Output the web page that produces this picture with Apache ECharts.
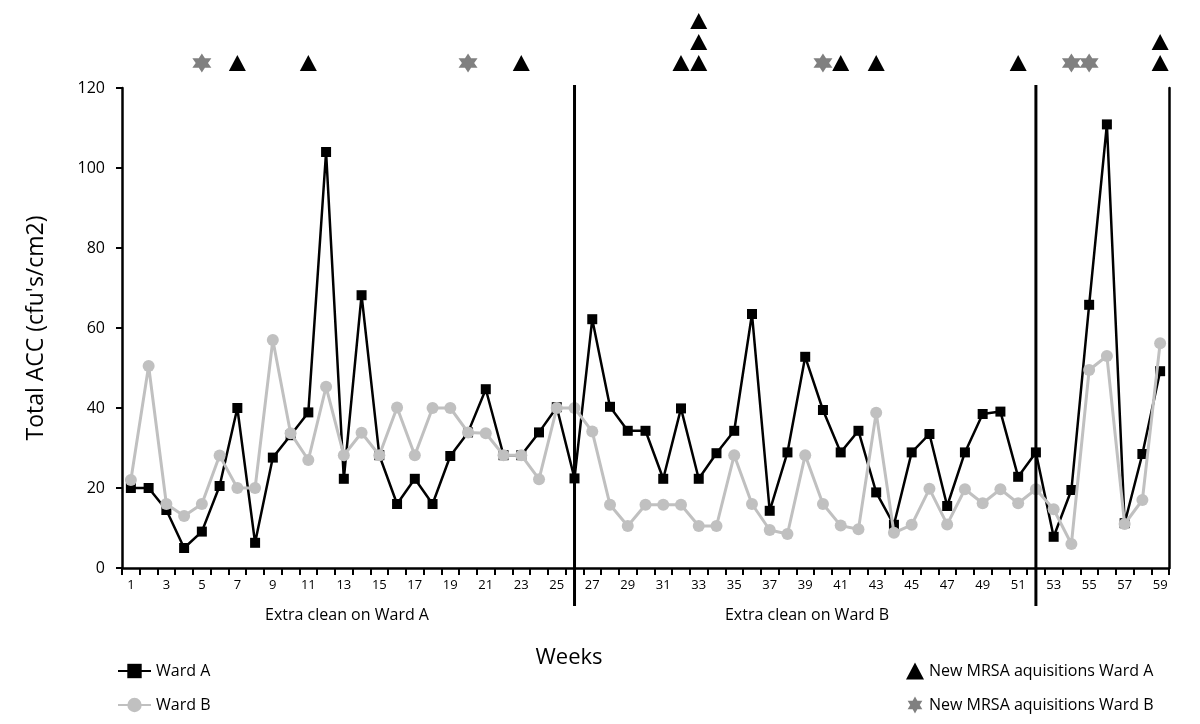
<!DOCTYPE html>
<html><head><meta charset="utf-8">
<script src="https://cdn.jsdelivr.net/npm/echarts@6/dist/echarts.min.js"></script>
<style>html,body{margin:0;padding:0;background:#fff}#c{width:1200px;height:724px}</style>
</head><body><div id="c"></div>
<script>
const weeks = ['1','2','3','4','5','6','7','8','9','10','11','12','13','14','15','16','17','18','19','20',
  '21','22','23','24','25','26','27','28','29','30','31','32','33','34','35','36','37','38','39','40',
  '41','42','43','44','45','46','47','48','49','50','51','52','53','54','55','56','57','58','59'];
const wardA = [20,20,14.5,5,9.1,20.5,40,6.3,27.6,33.2,38.9,104,22.3,68.2,28.2,16,22.3,16,28,33.9,
  44.7,28.2,28.2,33.9,40.2,22.4,62.2,40.3,34.3,34.3,22.3,39.9,22.3,28.7,34.3,63.5,14.3,28.9,52.8,39.5,
  28.9,34.3,18.9,10.8,28.9,33.5,15.5,28.9,38.5,39.1,22.8,28.9,7.8,19.5,65.8,110.9,11.2,28.5,49.2];
const wardB = [22,50.5,16,13,16,28.1,20,20,57,33.7,27,45.3,28.2,33.8,28.2,40.1,28.2,40,40,33.9,
  33.7,28.2,28.2,22.2,40,40,34.1,15.8,10.5,15.8,15.8,15.8,10.5,10.5,28.2,16,9.5,8.5,28.2,16,
  10.6,9.7,38.8,8.8,10.8,19.8,10.9,19.7,16.2,19.7,16.2,19.7,14.7,6,49.5,53,11,17,56.2];
const mrsaAWeeks = [7,11,23,32,33,33,33,41,43,51,59,59];
const mrsaBWeeks = [5,20,40,54,55];
const dividerWeeks = [26,52];
const yTicks = {min:0, max:120, interval:20};

const FONT = '"Open Sans", "Noto Sans", sans-serif';
const STAR = 'path://M50 0 L64 25 L93.3 25 L78 50 L93.3 75 L64 75 L50 100 L36 75 L6.7 75 L22 50 L6.7 25 L36 25 Z';

function stackMarks(list){
  const cnt = {};
  return list.map(w => { cnt[w] = (cnt[w]||0) + 1; return [String(w), cnt[w]]; });
}

const chart = echarts.init(document.getElementById('c'), null, {renderer:'canvas'});
chart.setOption({
  animation:false,
  backgroundColor:'#fff',
  textStyle:{fontFamily:FONT, color:'#000'},
  grid:[
    {left:122, right:31, top:88, bottom:156},
    {left:122, right:31, top:10.5, height:63}
  ],
  xAxis:[
    {type:'category', gridIndex:0, data:weeks, boundaryGap:true,
     axisLine:{show:true, lineStyle:{color:'#000', width:2.5}},
     axisTick:{show:true, interval:0, length:7, lineStyle:{color:'#000', width:2}},
     axisLabel:{interval:1, color:'#000', fontSize:13, margin:11, fontFamily:FONT},
     splitLine:{show:false}},
    {type:'category', gridIndex:1, data:weeks, boundaryGap:true, show:false}
  ],
  yAxis:[
    {type:'value', gridIndex:0, min:yTicks.min, max:yTicks.max, interval:yTicks.interval,
     name:"Total ACC (cfu's/cm2)", nameLocation:'middle', nameGap:74, nameRotate:90,
     nameTextStyle:{fontSize:23, color:'#000', fontFamily:FONT},
     axisLine:{show:true, lineStyle:{color:'#000', width:2.5}},
     axisTick:{show:true, length:6, lineStyle:{color:'#000', width:2}},
     axisLabel:{color:'#000', fontSize:16, margin:17, fontFamily:FONT},
     splitLine:{show:false}},
    {type:'value', gridIndex:0, position:'right', min:yTicks.min, max:yTicks.max,
     axisLine:{show:true, lineStyle:{color:'#000', width:2.5}},
     axisTick:{show:false}, axisLabel:{show:false}, splitLine:{show:false}},
    {type:'value', gridIndex:1, min:0.5, max:3.5, show:false, splitLine:{show:false}}
  ],
  legend:[
    {left:112, top:656, orient:'vertical', itemWidth:33, itemHeight:18, itemGap:14,
     data:['Ward A','Ward B'], textStyle:{fontSize:16, lineHeight:20, color:'#000', fontFamily:FONT}},
    {left:901, top:656, orient:'vertical', itemWidth:18, itemHeight:17, itemGap:14,
     data:['New MRSA aquisitions Ward A','New MRSA aquisitions Ward B'],
     textStyle:{fontSize:16, lineHeight:20, color:'#000', fontFamily:FONT}}
  ],
  graphic:[
    {type:'text', x:347, y:615, style:{text:'Extra clean on Ward A', fill:'#000', font:'16px '+FONT, textAlign:'center', textVerticalAlign:'middle'}},
    {type:'text', x:807, y:615, style:{text:'Extra clean on Ward B', fill:'#000', font:'16px '+FONT, textAlign:'center', textVerticalAlign:'middle'}},
    {type:'text', x:569, y:658, style:{text:'Weeks', fill:'#000', font:'22px '+FONT, textAlign:'center', textVerticalAlign:'middle'}}
  ],
  series:[
    {name:'Ward A', type:'line', xAxisIndex:0, yAxisIndex:0, data:wardA,
     symbol:'rect', symbolSize:10, showAllSymbol:true, lineStyle:{color:'#000', width:2.5},
     itemStyle:{color:'#000'}, z:3},
    {name:'Ward B', type:'line', xAxisIndex:0, yAxisIndex:0, data:wardB,
     symbol:'circle', symbolSize:12, showAllSymbol:true, lineStyle:{color:'#c0c0c0', width:3},
     itemStyle:{color:'#c0c0c0'}, z:4},
    {name:'New MRSA aquisitions Ward A', type:'scatter', xAxisIndex:1, yAxisIndex:2,
     data:stackMarks(mrsaAWeeks), symbol:'triangle', symbolSize:[17,16],
     itemStyle:{color:'#000', opacity:1}},
    {name:'New MRSA aquisitions Ward B', type:'scatter', xAxisIndex:1, yAxisIndex:2,
     data:stackMarks(mrsaBWeeks), symbol:STAR, symbolSize:19,
     itemStyle:{color:'#808080', opacity:1}},
    {type:'custom', xAxisIndex:0, yAxisIndex:0, clip:false, z:6, silent:true,
     data:dividerWeeks.map(w => [String(w)]),
     renderItem:function(params, api){
       const top = api.coord([api.value(0), yTicks.max]);
       const bot = api.coord([api.value(0), yTicks.min]);
       return {type:'line', shape:{x1:top[0], y1:top[1]-3, x2:bot[0], y2:bot[1]+38},
               style:{stroke:'#000', lineWidth:3}};
     }}
  ]
});
</script></body></html>
